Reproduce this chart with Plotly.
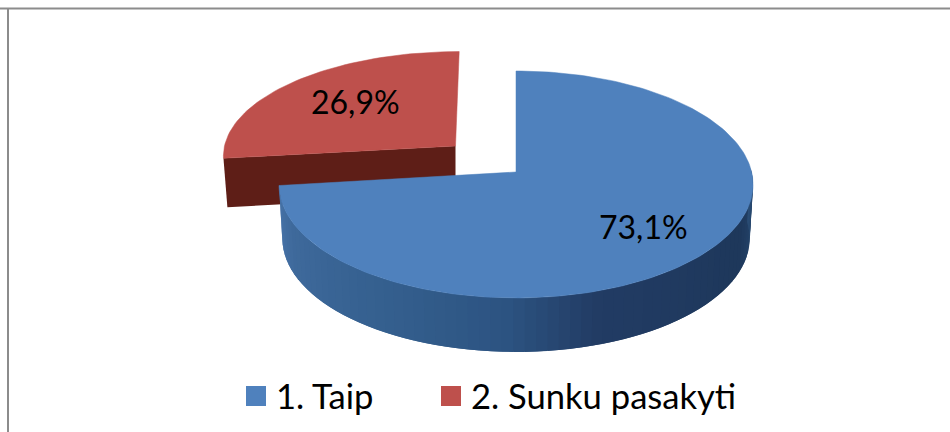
import numpy as np
import plotly.graph_objects as go

# ---- data ----
categories = ["1. Taip", "2. Sunku pasakyti"]
shares = [73.1, 26.9]
labels = ["73,1%", "26,9%"]
top_colors = ["#4F81BD", "#BE504C"]
BLUE_SIDE_STOPS = [(0.0, "#4874AA"), (0.10, "#3F6A9C"), (0.30, "#35608F"), (0.46, "#2D5482"),
                   (0.58, "#223C64"), (0.85, "#1E385B"), (1.0, "#2A4C74")]
RED_SIDE = "#5E1E17"

# ---- projection of the tilted pie onto the page (pixel space) ----
BLUE = dict(cx=516, cy=172, e=235.6, d=112.1, k=0.11, s=0, depth=54, shrink=0.986)
RED = dict(cx=455.5, cy=146, e=231, d=102, k=0.08, s=4, depth=49, shrink=0.983)


def proj(theta_deg, g, r=1.0, low=False):
    t = np.radians(theta_deg)
    u, v = r * np.sin(t), r * np.cos(t)
    w = 1 + g["k"] * v
    sc = g["shrink"] if low else 1.0
    x = g["cx"] + sc * (g["e"] * u + g["s"] * v) / w
    y = g["cy"] - g["d"] * v / w + (g["depth"] if low else 0)
    return x, y


def hex2rgb(h):
    return np.array([int(h[i:i + 2], 16) for i in (1, 3, 5)], float)


def ramp(f):
    pos = [p for p, _ in BLUE_SIDE_STOPS]
    cols = np.array([hex2rgb(c) for _, c in BLUE_SIDE_STOPS])
    return "rgb(%d,%d,%d)" % tuple(np.interp(f, pos, cols[:, i]) for i in range(3))


angle_blue = shares[0] / sum(shares) * 360
fig = go.Figure()


def poly(x, y, color, line=0.0):
    fig.add_trace(go.Scatter(x=list(x), y=list(y), mode="lines", fill="toself", fillcolor=color,
                             line=dict(color=color, width=line), hoverinfo="skip", showlegend=False))


# red slice (behind the blue one)
th_r = np.linspace(angle_blue, 360, 60)
x0, y0 = proj(angle_blue, RED)
x1, y1 = proj(angle_blue, RED, low=True)
ax, ay = proj(0, RED, r=0)
bx, by = proj(0, RED, r=0, low=True)
poly([x0, ax, bx, x1], [y0, ay, by, y1], RED_SIDE)
tx, ty = proj(th_r, RED)
poly(np.r_[ax, tx, ax], np.r_[ay, ty, ay], top_colors[1], 0.5)

# blue slice: side wall, strip by strip (each strip overlaps the next), then the top face
edges = np.linspace(angle_blue, 88, 71)
for i in range(len(edges) - 1):
    seg = np.linspace(edges[i], edges[min(i + 2, len(edges) - 1)], 4)
    xa, ya = proj(seg, BLUE)
    xb, yb = proj(seg, BLUE, low=True)
    poly(np.r_[xa, xb[::-1]], np.r_[ya, yb[::-1]], ramp(i / (len(edges) - 2)))
th_b = np.linspace(0, angle_blue, 180)
tx, ty = proj(th_b, BLUE)
ax, ay = proj(0, BLUE, r=0)
poly(np.r_[ax, tx, ax], np.r_[ay, ty, ay], top_colors[0], 0.5)

# legend entries: one independent legend each, so the spacing can follow the reference
for name, col, leg in zip(categories, top_colors, ["legend", "legend2"]):
    fig.add_trace(go.Scatter(x=[None], y=[None], mode="markers", name=name, legend=leg,
                             marker=dict(symbol="square", size=16, color=col, line=dict(color=col, width=4))))

FONT = "Lato, Carlito, Calibri, sans-serif"
for x, y, t in [(643, 226, labels[0]), (355, 101, labels[1])]:
    fig.add_annotation(x=x, y=y, text=t, showarrow=False, font=dict(family=FONT, size=32, color="#000000"),
                       xanchor="center", yanchor="middle")

legend_style = dict(orientation="h", y=1 - 367 / 432, yanchor="top", xanchor="left",
                    font=dict(family=FONT, size=34.6, color="#000000"), bgcolor="rgba(0,0,0,0)")
fig.update_layout(
    width=950, height=432, margin=dict(l=0, r=0, t=0, b=0),
    paper_bgcolor="#FFFFFF", plot_bgcolor="#FFFFFF",
    xaxis=dict(range=[0, 950], visible=False, fixedrange=True),
    yaxis=dict(range=[432, 0], visible=False, fixedrange=True),
    showlegend=True,
    legend=dict(x=236 / 950, **legend_style),
    legend2=dict(x=431 / 950, **legend_style),
    font=dict(family=FONT, size=32, color="#000000"),
)
fig.add_shape(type="line", xref="paper", yref="paper", x0=0, x1=1, y0=1 - 8.5 / 432, y1=1 - 8.5 / 432,
              line=dict(color="#8C8C8C", width=2))
fig.add_shape(type="line", xref="paper", yref="paper", x0=8 / 950, x1=8 / 950, y0=0, y1=1 - 8 / 432,
              line=dict(color="#8C8C8C", width=2))
fig.write_html("out.html", config={"displayModeBar": False}, post_script="document.body.style.margin='0';")
